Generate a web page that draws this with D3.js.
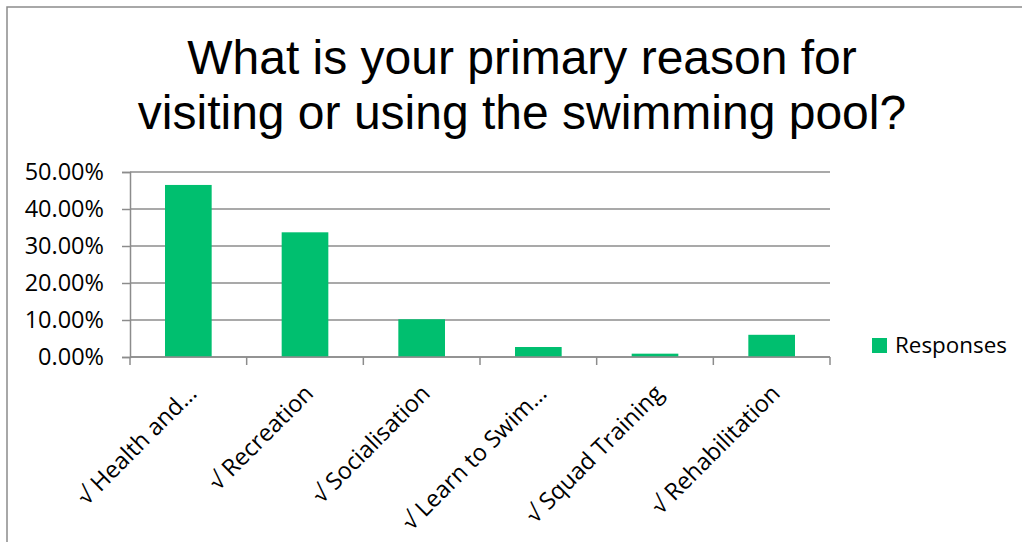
<!DOCTYPE html>
<html>
<head>
<meta charset="utf-8">
<script src="https://cdn.jsdelivr.net/npm/d3@7"></script>
<style>
  html, body { margin: 0; padding: 0; background: #fff; }
  svg { display: block; }
</style>
</head>
<body>
<svg id="chart" width="1022" height="542"></svg>
<script>
// Survey: primary reason for visiting the swimming pool
const categories = [
  "√ Health and…",
  "√ Recreation",
  "√ Socialisation",
  "√ Learn to Swim…",
  "√ Squad Training",
  "√ Rehabilitation"
];
const responses = [0.465, 0.337, 0.102, 0.027, 0.009, 0.060];
const yTicks = [0, 0.1, 0.2, 0.3, 0.4, 0.5];
const titleLines = ["What is your primary reason for", "visiting or using the swimming pool?"];
const seriesName = "Responses";

const svg = d3.select("#chart");
const W = 1022, H = 542;
const barColor = "#00BF6F";
const gridColor = "#8C8C8C";
const labelFont = "'Open Sans', sans-serif";

// chart frame (top and left edges visible)
svg.append("path")
  .attr("d", `M7,${H} V7 H${W}`)
  .attr("fill", "none")
  .attr("stroke", "#8C8C8C")
  .attr("stroke-width", 1.5);

// title
svg.append("g").selectAll("text")
  .data(titleLines)
  .join("text")
  .attr("x", 522)
  .attr("y", (d, i) => 74 + i * 55)
  .attr("text-anchor", "middle")
  .attr("font-family", "'Liberation Sans', Arial, sans-serif")
  .attr("font-size", 48)
  .attr("fill", "#000")
  .text(d => d);

const plot = { left: 130, right: 830, top: 172, bottom: 357 };

const x = d3.scaleBand()
  .domain(categories)
  .range([plot.left, plot.right])
  .paddingInner(0.6)
  .paddingOuter(0.3);

const y = d3.scaleLinear()
  .domain([0, 0.5])
  .range([plot.bottom, plot.top]);

// horizontal gridlines
svg.append("g")
  .selectAll("line")
  .data(yTicks)
  .join("line")
  .attr("x1", plot.left)
  .attr("x2", plot.right)
  .attr("y1", d => y(d))
  .attr("y2", d => y(d))
  .attr("stroke", gridColor)
  .attr("stroke-width", 1.5);

// bars
svg.append("g")
  .selectAll("rect")
  .data(responses)
  .join("rect")
  .attr("x", (d, i) => x(categories[i]))
  .attr("y", d => y(d))
  .attr("width", x.bandwidth())
  .attr("height", d => y(0) - y(d))
  .attr("fill", barColor);

// y axis
const yAxis = d3.axisLeft(y)
  .tickValues(yTicks)
  .tickFormat(d => (d * 100).toFixed(2) + "%")
  .tickSize(8)
  .tickPadding(18);

const gy = svg.append("g")
  .attr("transform", `translate(${plot.left},0)`)
  .call(yAxis);
gy.select(".domain").attr("stroke", gridColor).attr("stroke-width", 1.5);
gy.selectAll(".tick line").attr("stroke", gridColor).attr("stroke-width", 1.5);
gy.selectAll(".tick text")
  .attr("font-family", labelFont)
  .attr("font-size", 23.5)
  .attr("fill", "#000");

// x axis: ticks at category boundaries
const step = (plot.right - plot.left) / categories.length;
const boundaries = d3.range(categories.length + 1).map(i => plot.left + i * step);
svg.append("line")
  .attr("x1", plot.left).attr("x2", plot.right)
  .attr("y1", plot.bottom).attr("y2", plot.bottom)
  .attr("stroke", gridColor).attr("stroke-width", 1.5);
svg.append("g")
  .selectAll("line")
  .data(boundaries)
  .join("line")
  .attr("x1", d => d).attr("x2", d => d)
  .attr("y1", plot.bottom).attr("y2", plot.bottom + 8)
  .attr("stroke", gridColor).attr("stroke-width", 1.5);

// rotated category labels
svg.append("g")
  .selectAll("text")
  .data(categories)
  .join("text")
  .attr("transform", d => `translate(${x(d) + x.bandwidth() / 2 + 4},${plot.bottom + 32}) rotate(-45)`)
  .attr("text-anchor", "end")
  .attr("dy", "0.35em")
  .attr("font-family", labelFont)
  .attr("font-size", 23.5)
  .attr("fill", "#000")
  .text(d => d);

// legend
const legend = svg.append("g").attr("transform", "translate(872,338)");
legend.append("rect")
  .attr("width", 15).attr("height", 15)
  .attr("fill", barColor);
legend.append("text")
  .attr("x", 23)
  .attr("y", 7.5)
  .attr("dy", "0.35em")
  .attr("font-family", labelFont)
  .attr("font-size", 22.4)
  .attr("fill", "#000")
  .text(seriesName);
</script>
</body>
</html>
